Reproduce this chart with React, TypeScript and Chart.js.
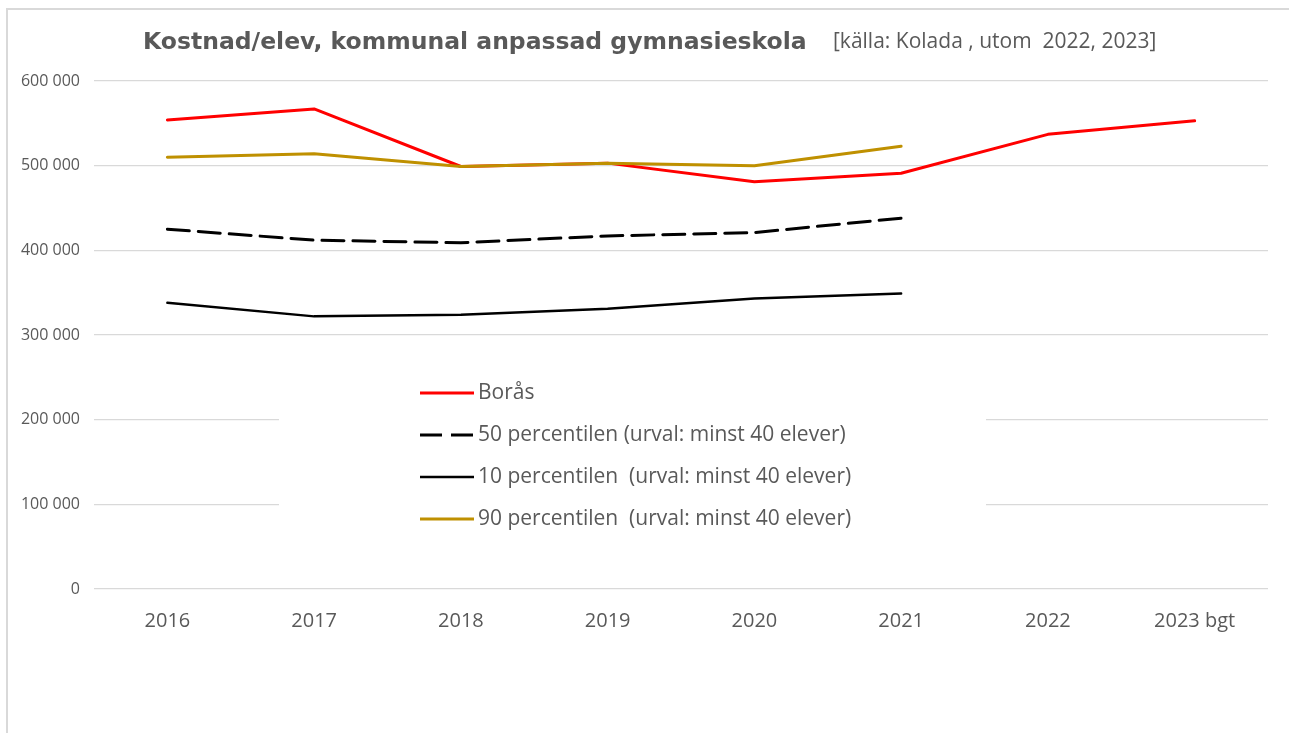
import React, { useEffect, useRef } from "react";
import { Chart, registerables } from "chart.js";

Chart.register(...registerables);

const categories = ["2016", "2017", "2018", "2019", "2020", "2021", "2022", "2023 bgt"];
const borasValues = [554000, 567000, 499000, 503000, 481000, 491000, 537000, 553000];
const p50Values = [425000, 412000, 409000, 417000, 421000, 438000, null, null];
const p10Values = [338000, 322000, 324000, 331000, 343000, 349000, null, null];
const p90Values = [510000, 514000, 499000, 503000, 500000, 523000, null, null];
const seriesLabels = [
  "Borås",
  "50 percentilen (urval: minst 40 elever)",
  "10 percentilen  (urval: minst 40 elever)",
  "90 percentilen  (urval: minst 40 elever)",
];
const titleText = "Kostnad/elev, kommunal anpassad gymnasieskola";
const subtitleText = "[källa: Kolada , utom  2022, 2023]";
const yMin = 0;
const yMax = 600000;
const yStep = 100000;

const W = 1289;
const H = 733;
const TEXT_GRAY = "#595959";
const CAL_FONT = "'Open Sans', 'Noto Sans', sans-serif";

const fmt = (v: number) => String(v).replace(/\B(?=(\d{3})+(?!\d))/g, " ");

const headerPlugin = {
  id: "headerText",
  afterDraw(chart: any) {
    const ctx = chart.ctx;
    ctx.save();
    ctx.fillStyle = TEXT_GRAY;
    ctx.textBaseline = "middle";
    ctx.textAlign = "left";
    ctx.font = "bold 23.5px 'DejaVu Sans', sans-serif";
    ctx.fillText(titleText, 143, 43);
    ctx.font = `21px ${CAL_FONT}`;
    ctx.fillText(subtitleText, 833, 42);
    ctx.restore();
  },
};

const boxLegendPlugin = {
  id: "boxLegend",
  afterDraw(chart: any) {
    const ctx = chart.ctx;
    ctx.save();
    ctx.fillStyle = "#ffffff";
    ctx.fillRect(279, 352, 707, 192);
    chart.data.datasets.forEach((ds: any, i: number) => {
      const y = 393 + i * 42;
      ctx.beginPath();
      ctx.strokeStyle = ds.borderColor;
      ctx.lineWidth = ds.borderWidth;
      ctx.lineCap = "butt";
      ctx.setLineDash(ds.borderDash || []);
      ctx.moveTo(420, y);
      ctx.lineTo(474, y);
      ctx.stroke();
      ctx.setLineDash([]);
      ctx.fillStyle = TEXT_GRAY;
      ctx.font = `21px ${CAL_FONT}`;
      ctx.textBaseline = "middle";
      ctx.textAlign = "left";
      ctx.fillText(ds.label, 478, y);
    });
    ctx.restore();
  },
};

export default function App() {
  const ref = useRef<HTMLCanvasElement | null>(null);

  useEffect(() => {
    if (!ref.current) return;
    const chart = new Chart(ref.current, {
      type: "line",
      data: {
        labels: categories,
        datasets: [
          {
            label: seriesLabels[0],
            data: borasValues,
            borderColor: "#ff0000",
            backgroundColor: "#ff0000",
            borderWidth: 3,
            order: 1,
          },
          {
            label: seriesLabels[1],
            data: p50Values,
            borderColor: "#000000",
            backgroundColor: "#000000",
            borderWidth: 3,
            borderDash: [22, 9],
            order: 2,
          },
          {
            label: seriesLabels[2],
            data: p10Values,
            borderColor: "#000000",
            backgroundColor: "#000000",
            borderWidth: 2.5,
            order: 3,
          },
          {
            label: seriesLabels[3],
            data: p90Values,
            borderColor: "#bf9000",
            backgroundColor: "#bf9000",
            borderWidth: 3,
            order: 0,
          },
        ] as any,
      },
      options: {
        animation: false,
        responsive: false,
        devicePixelRatio: 1,
        spanGaps: false,
        elements: {
          point: { radius: 0, hoverRadius: 0 },
          line: { tension: 0, borderJoinStyle: "round", borderCapStyle: "round" },
        },
        layout: { padding: { top: 81, right: 21, bottom: 0, left: 0 } },
        plugins: {
          legend: { display: false },
          title: { display: false },
          tooltip: { enabled: false },
        },
        scales: {
          x: {
            type: "category",
            offset: true,
            grid: { display: false, drawTicks: false },
            border: { display: false },
            ticks: {
              color: TEXT_GRAY,
              font: { family: CAL_FONT, size: 20 },
              padding: 20,
              maxRotation: 0,
              autoSkip: false,
            },
            afterFit: (scale: any) => {
              scale.height = H - 589;
            },
          },
          y: {
            min: yMin,
            max: yMax,
            grid: { color: "#d9d9d9", lineWidth: 1.3, drawTicks: false },
            border: { display: false },
            ticks: {
              stepSize: yStep,
              color: TEXT_GRAY,
              font: { family: CAL_FONT, size: 16 },
              padding: 14,
              callback: (v: any) => fmt(Number(v)),
            },
            afterFit: (scale: any) => {
              scale.width = 94;
            },
          },
        },
      },
      plugins: [headerPlugin, boxLegendPlugin],
    });
    return () => chart.destroy();
  }, []);

  return (
    <div
      style={{
        position: "absolute",
        left: 0,
        top: 0,
        width: W,
        height: H,
        overflow: "hidden",
        background: "#ffffff",
      }}
    >
      <div
        style={{
          position: "absolute",
          left: 6,
          top: 8,
          width: W + 50,
          height: H + 50,
          borderLeft: "2px solid #d9d9d9",
          borderTop: "2px solid #d9d9d9",
          boxSizing: "border-box",
        }}
      />
      <canvas
        ref={ref}
        width={W}
        height={H}
        style={{ position: "absolute", left: 0, top: 0, width: W, height: H }}
      />
    </div>
  );
}
